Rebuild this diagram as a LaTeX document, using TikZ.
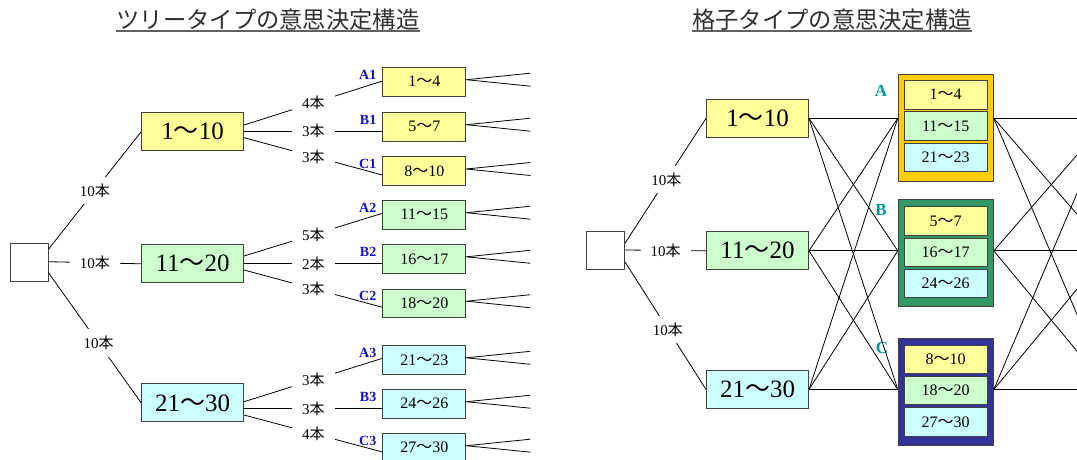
\documentclass[tikz,border=0pt]{standalone}
\usepackage{fontspec}
\setmainfont{Liberation Serif}
\newfontfamily\cjk{Noto Sans CJK JP}
\usetikzlibrary{calc}
\definecolor{ybox}{HTML}{FFFF99}
\definecolor{gbox}{HTML}{CCFFCC}
\definecolor{cbox}{HTML}{CCFFFF}
\definecolor{goldgrp}{HTML}{FFCC00}
\definecolor{greengrp}{HTML}{339966}
\definecolor{navygrp}{HTML}{333399}
\definecolor{tagblue}{HTML}{1010D0}
\definecolor{tagteal}{HTML}{009999}
\definecolor{edgegray}{HTML}{404040}
\definecolor{titlegray}{HTML}{303030}
\definecolor{ulgray}{HTML}{606060}
\newcommand\wv{{\cjk ～}}
\newcommand\hon{{\cjk 本}}
\begin{document}
\begin{tikzpicture}[x=1pt,y=-1pt,
  big/.style={draw=edgegray, line width=0.9pt, minimum height=38pt, minimum width=102pt, inner sep=0pt, font=\fontsize{25}{30}\selectfont},
  leaf/.style={draw=edgegray, line width=0.9pt, minimum height=28.5pt, minimum width=83pt, inner sep=0pt, font=\fontsize{16}{19}\selectfont},
  sqbox/.style={draw=edgegray, line width=0.9pt, minimum width=38pt, minimum height=38pt, inner sep=0pt, fill=white},
  grp/.style={draw=edgegray, line width=1pt, minimum width=95pt, minimum height=107pt, inner sep=0pt},
  cnt/.style={fill=white, inner xsep=10pt, inner ysep=7pt, font=\fontsize{15}{18}\selectfont},
  tag/.style={text=tagblue, font=\fontsize{14}{16}\selectfont\bfseries, inner sep=0pt, anchor=east},
  gtag/.style={text=tagteal, font=\fontsize{17}{20}\selectfont\bfseries, inner sep=0pt},
  ttl/.style={text=titlegray, font=\cjk\fontsize{23.3}{28}\selectfont, inner sep=0pt},
  wire/.style={line width=0.8pt, draw=black}
]
\useasboundingbox (0,0) rectangle (1077,459);
\fill[white] (0,0) rectangle (1077,459);

% ---------- titles ----------
\node[ttl] (t1) at (268,20) {ツリータイプの意思決定構造};
\node[ttl] (t2) at (832,20) {格子タイプの意思決定構造};
\draw[line width=1.3pt, draw=ulgray] (t1.south west) -- (t1.south east);
\draw[line width=1.3pt, draw=ulgray] (t2.south west) -- (t2.south east);

% ---------- tree ----------
\node[sqbox] (s1) at (29,262.5) {};
\node[big, fill=ybox] (p1) at (192.6,131.7) {1\wv10};
\node[big, fill=gbox] (p2) at (192.6,263.8) {11\wv20};
\node[big, fill=cbox] (p3) at (192.6,402.8) {21\wv30};

\node[leaf, fill=ybox] (A1) at (424.4,81.7) {1\wv4};
\node[leaf, fill=ybox] (B1) at (424.4,126.7) {5\wv7};
\node[leaf, fill=ybox] (C1) at (424.4,171) {8\wv10};
\node[leaf, fill=gbox] (A2) at (424.4,214.7) {11\wv15};
\node[leaf, fill=gbox] (B2) at (424.4,258.8) {16\wv17};
\node[leaf, fill=gbox] (C2) at (424.4,303.2) {18\wv20};
\node[leaf, fill=cbox] (A3) at (424.4,359.8) {21\wv23};
\node[leaf, fill=cbox] (B3) at (424.4,403.7) {24\wv26};
\node[leaf, fill=cbox] (C3) at (424.4,447.7) {27\wv30};

\draw[wire] ($(s1.east)+(0,-13.2)$) -- node[cnt]{10\hon} (p1.west);
\draw[wire] ($(s1.east)+(0,-0.8)$) -- node[cnt]{10\hon} (p2.west);
\draw[wire] ($(s1.east)+(0,10.2)$) -- node[cnt,pos=0.54]{10\hon} (p3.west);

\draw[wire] ($(p1.east)+(0,-6.7)$) -- node[cnt]{4\hon} ($(A1.west)+(0,-0.7)$);
\draw[wire] ($(p1.east)+(0,-0.7)$) -- node[cnt]{3\hon} ($(B1.west)+(0,4.3)$);
\draw[wire] ($(p1.east)+(0,6)$) -- node[cnt]{3\hon} ($(C1.west)+(0,4)$);
\draw[wire] ($(p2.east)+(0,-7.8)$) -- node[cnt]{5\hon} ($(A2.west)+(0,-1.4)$);
\draw[wire] ($(p2.east)+(0,-0.5)$) -- node[cnt]{2\hon} ($(B2.west)+(0,4.5)$);
\draw[wire] ($(p2.east)+(0,6.2)$) -- node[cnt]{3\hon} ($(C2.west)+(0,4.1)$);
\draw[wire] ($(p3.east)+(0,-1.1)$) -- node[cnt]{3\hon} ($(A3.west)+(0,-1.5)$);
\draw[wire] ($(p3.east)+(0,5.5)$) -- node[cnt]{3\hon} ($(B3.west)+(0,4.6)$);
\draw[wire] ($(p3.east)+(0,12.2)$) -- node[cnt]{4\hon} ($(C3.west)+(0,4.3)$);

\foreach \L in {A1,B1,C1,A2,B2,C2,A3,B3,C3}{
  \coordinate (\L-f1) at ($(\L.east)+(64,-8.5)$);
  \coordinate (\L-f2) at ($(\L.east)+(64,4.5)$);
  \draw[wire] ($(\L.east)+(0,-2)$) -- (\L-f1);
  \draw[wire] ($(\L.east)+(0,-2)$) -- (\L-f2);
  \node[tag] (tag\L) at ($(\L.north west)+(-6,7.5)$) {\L};
}

% ---------- lattice ----------
\node[sqbox] (s2) at (605.5,250.8) {};
\node[big, fill=ybox] (q1) at (757.5,118.3) {1\wv10};
\node[big, fill=gbox] (q2) at (757.5,250.8) {11\wv20};
\node[big, fill=cbox] (q3) at (757.5,389.5) {21\wv30};

\node[grp, fill=goldgrp] (gA) at (945.8,127.5) {};
\node[grp, fill=greengrp] (gB) at (945.8,253.3) {};
\node[grp, fill=navygrp] (gC) at (945.8,392) {};

\node[leaf, fill=ybox, minimum width=82.7pt] (a1) at (945.7,94.7) {1\wv4};
\node[leaf, fill=gbox, minimum width=82.7pt] (a2) at (945.7,126) {11\wv15};
\node[leaf, fill=cbox, minimum width=82.7pt] (a3) at (945.7,157.5) {21\wv23};
\node[leaf, fill=ybox, minimum width=82.7pt] (b1) at (945.7,221) {5\wv7};
\node[leaf, fill=gbox, minimum width=82.7pt] (b2) at (945.7,252.2) {16\wv17};
\node[leaf, fill=cbox, minimum width=82.7pt] (b3) at (945.7,283.5) {24\wv26};
\node[leaf, fill=ybox, minimum width=82.7pt] (c1) at (945.7,359.2) {8\wv10};
\node[leaf, fill=gbox, minimum width=82.7pt] (c2) at (945.7,390.5) {18\wv20};
\node[leaf, fill=cbox, minimum width=82.7pt] (c3) at (945.7,421.8) {27\wv30};

\node[gtag] (tA) at (881,91) {A};
\node[gtag] (tB) at (881,210) {B};
\node[gtag] (tC) at (882,348) {C};

\coordinate (aL) at (gA.west |- q1.east);
\coordinate (bL) at (gB.west |- q2.east);
\coordinate (cL) at (gC.west |- q3.east);
\coordinate (aR) at (gA.east |- q1.east);
\coordinate (bR) at (gB.east |- q2.east);
\coordinate (cR) at (gC.east |- q3.east);
\coordinate (nA) at ($(aR)+(115,0)$);
\coordinate (nB) at ($(bR)+(115,0)$);
\coordinate (nC) at ($(cR)+(115,0)$);

\draw[wire] ($(s2.east)+(0,-7.5)$) -- node[cnt,pos=0.51]{10\hon} (q1.west);
\draw[wire] ($(s2.east)+(0,-0.8)$) -- node[cnt]{10\hon} (q2.west);
\draw[wire] ($(s2.east)+(0,11)$) -- node[cnt,pos=0.53]{10\hon} (q3.west);

\foreach \q in {q1,q2,q3}{
  \foreach \g in {aL,bL,cL}{
    \draw[wire] (\q.east) -- (\g);
  }
}
\begin{scope}
  \clip (0,0) rectangle (1077,459);
  \foreach \g in {aR,bR,cR}{
    \foreach \n in {nA,nB,nC}{
      \draw[wire] (\g) -- (\n);
    }
  }
\end{scope}
\end{tikzpicture}
\end{document}
